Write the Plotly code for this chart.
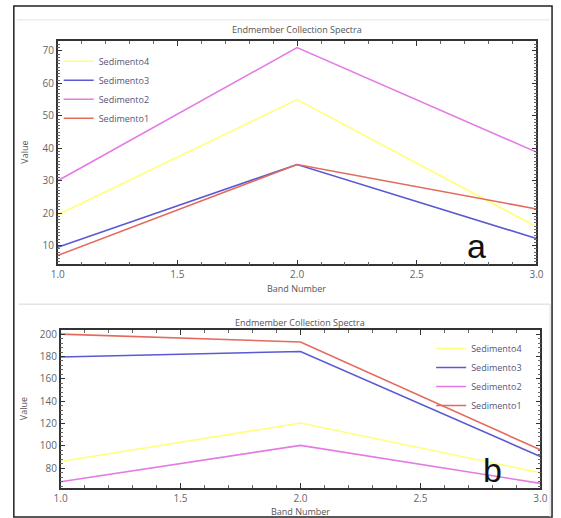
import plotly.graph_objects as go

W, H = 561, 518

bands = [1.0, 2.0, 3.0]
series_names = ["Sedimento4", "Sedimento3", "Sedimento2", "Sedimento1"]
colors = ["#ffff7a", "#5a5ad2", "#e47ae4", "#e46a5e"]

# panel a values
a_sed4 = [19.5, 55.0, 15.8]
a_sed3 = [9.5, 35.0, 12.2]
a_sed2 = [30.0, 71.0, 38.8]
a_sed1 = [7.0, 35.0, 21.3]

# panel b values
b_sed4 = [86.0, 120.5, 76.0]
b_sed3 = [179.5, 184.5, 90.5]
b_sed2 = [68.0, 100.5, 66.5]
b_sed1 = [200.0, 193.0, 96.5]

a_vals = [a_sed4, a_sed3, a_sed2, a_sed1]
b_vals = [b_sed4, b_sed3, b_sed2, b_sed1]


def px(x):
    return x / W


def py(y):
    return 1 - y / H


fig = go.Figure()
for name, col, v in zip(series_names, colors, a_vals):
    fig.add_trace(go.Scatter(x=bands, y=v, name=name, mode="lines",
                             line=dict(color=col, width=1.6),
                             xaxis="x", yaxis="y", legend="legend"))
for name, col, v in zip(series_names, colors, b_vals):
    fig.add_trace(go.Scatter(x=bands, y=v, name=name, mode="lines",
                             line=dict(color=col, width=1.6),
                             xaxis="x2", yaxis="y2", legend="legend2"))

tickfont = dict(family="Open Sans, Arial", size=10, color="#666666")
axcommon = dict(showline=True, linecolor="#333333", linewidth=1.5, mirror="allticks",
                ticks="inside", ticklen=5, tickwidth=1.2, tickcolor="#333333", showgrid=False,
                zeroline=False, tickfont=tickfont, tickmode="linear")
minor_common = dict(ticks="inside", ticklen=3, tickwidth=1, tickcolor="#666666", showgrid=False)

legfont = dict(family="Open Sans, Arial", size=9, color="#55557a")

fig.update_layout(
    width=W, height=H, margin=dict(l=0, r=0, t=0, b=0),
    paper_bgcolor="white", plot_bgcolor="white", showlegend=True,
    xaxis=dict(domain=[px(52), px(543)], anchor="y", range=[1, 3],
               tick0=1.0, dtick=0.5, tickformat=".1f",
               minor=dict(dtick=0.1, **minor_common), **axcommon),
    yaxis=dict(domain=[py(263), py(38)], anchor="x", range=[4.2, 73.1],
               tick0=10, dtick=10,
               minor=dict(dtick=1, **minor_common), **axcommon),
    xaxis2=dict(domain=[px(55), px(547)], anchor="y2", range=[1, 3],
                tick0=1.0, dtick=0.5, tickformat=".1f",
                minor=dict(dtick=0.1, **minor_common), **axcommon),
    yaxis2=dict(domain=[py(488), py(329)], anchor="x2", range=[62.2, 203.6],
                tick0=80, dtick=20,
                minor=dict(dtick=4, **minor_common), **axcommon),
    legend=dict(x=px(53), y=py(44), xanchor="left", yanchor="top",
                bgcolor="rgba(0,0,0,0)", tracegroupgap=0, itemwidth=30,
                font=legfont),
    legend2=dict(x=px(435), y=py(333), xanchor="left", yanchor="top",
                 bgcolor="rgba(0,0,0,0)", tracegroupgap=0, itemwidth=30,
                 font=legfont),
)

ann_font = dict(family="Open Sans, Arial", size=9, color="#555555")
annotations = [
    dict(text="Endmember Collection Spectra", x=px(297), y=py(27)),
    dict(text="Band Number", x=px(297), y=py(287)),
    dict(text="Value", x=px(18), y=py(150), textangle=-90),
    dict(text="Endmember Collection Spectra", x=px(301), y=py(321)),
    dict(text="Band Number", x=px(301), y=py(511)),
    dict(text="Value", x=px(17), y=py(408), textangle=-90),
]
for a in annotations:
    fig.add_annotation(xref="paper", yref="paper", showarrow=False,
                       xanchor="center", yanchor="middle", font=ann_font, **a)
fig.add_annotation(xref="paper", yref="paper", showarrow=False, text="a",
                   x=px(482), y=py(244), xanchor="center", yanchor="middle",
                   font=dict(family="Arial", size=34, color="#111111"))
fig.add_annotation(xref="paper", yref="paper", showarrow=False, text="b",
                   x=px(498), y=py(470), xanchor="center", yanchor="middle",
                   font=dict(family="Arial", size=34, color="#111111"))

# frame lines
fig.add_shape(type="rect", xref="paper", yref="paper",
              x0=px(7), x1=px(559), y0=py(517), y1=py(3),
              line=dict(color="#222222", width=1.5))
fig.add_shape(type="line", xref="paper", yref="paper",
              x0=px(10), x1=px(557), y0=py(17), y1=py(17),
              line=dict(color="#e4e4e4", width=1))
fig.add_shape(type="line", xref="paper", yref="paper",
              x0=px(12), x1=px(557), y0=py(303), y1=py(303),
              line=dict(color="#e4e4e4", width=1.5))
fig.add_shape(type="line", xref="paper", yref="paper",
              x0=px(557), x1=px(557), y0=py(303), y1=py(517),
              line=dict(color="#dddddd", width=1))

fig.write_html("out.html", config={"displayModeBar": False},
               post_script="document.body.style.margin='0';document.body.style.overflow='hidden';")
